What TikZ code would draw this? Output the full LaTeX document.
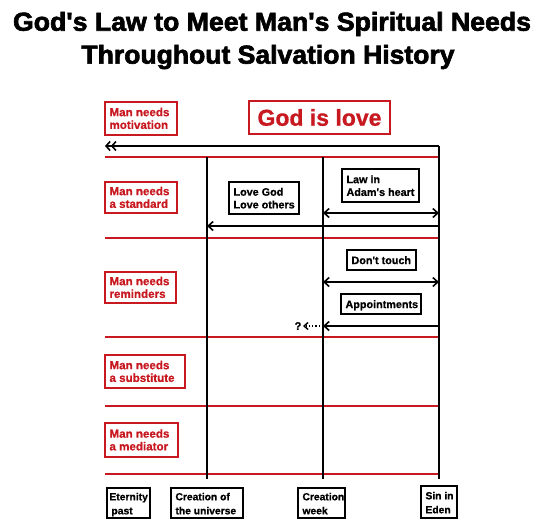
\documentclass[tikz,border=0pt]{standalone}
\usepackage{fontspec}
\setmainfont{Liberation Sans}
\newfontfamily\titlefont{Liberation Sans}[BoldFeatures={FakeBold=2.4}]
\newfontfamily\lblfont{Liberation Sans}[BoldFeatures={FakeBold=0.8}]
\usetikzlibrary{arrows.meta}
\definecolor{dred}{RGB}{200,24,32}
\newcommand{\lbtext}[2]{\raisebox{-1.5pt}[\height][\depth]{\makebox[#1][l]{\begin{tabular}{@{}l@{}}#2\end{tabular}}}}
\tikzset{
  rbox/.style={draw=dred, line width=1.8pt, text=dred, font=\lblfont\bfseries\fontsize{11.6}{12.7}\selectfont, inner xsep=4.5pt, inner ysep=0pt},
  bbox/.style={draw=black, line width=1.8pt, text=black, font=\lblfont\bfseries\fontsize{10.8}{12.7}\selectfont, inner xsep=4.5pt, inner ysep=0pt},
  tbox/.style={draw=black, line width=1.8pt, text=black, font=\lblfont\bfseries\fontsize{10.3}{14}\selectfont, inner xsep=4.5pt, inner ysep=0pt},
  redline/.style={draw=dred, line width=2pt},
  blkline/.style={draw=black, line width=2pt},
  arr/.style={draw=black, line width=2pt, -{Straight Barb[length=5pt,width=9pt,line width=1.6pt]}},
  darr/.style={draw=black, line width=2pt, {Straight Barb[length=5pt,width=9pt,line width=1.6pt]}-{Straight Barb[length=5pt,width=9pt,line width=1.6pt]}},
  dblarr/.style={draw=black, line width=2pt, -{Straight Barb[length=4pt,width=9pt,line width=1.6pt]Straight Barb[length=4pt,width=9pt,line width=1.6pt]}},
  dotarr/.style={draw=black, line width=1.2pt, dotted, -{Straight Barb[length=4pt,width=7pt,line width=1.4pt]}},
}
\begin{document}
\begin{tikzpicture}[x=1pt,y=-1pt]
\useasboundingbox[fill=white] (0,0) rectangle (546,531);
% title
\node (title1) at (272,24) {\resizebox{518pt}{\height}{\titlefont\bfseries\fontsize{26}{30}\selectfont God's Law to Meet Man's Spiritual Needs}};
\node (title2) at (268,57) {\resizebox{373pt}{\height}{\titlefont\bfseries\fontsize{26}{30}\selectfont Throughout Salvation History}};
% grid coordinates
\coordinate (t0) at (105,146);
\coordinate (t1) at (439,146);
\foreach \n/\y in {1/157,2/238,3/337,4/406,5/474}{
  \coordinate (hl\n) at (105,\y);
  \coordinate (hr\n) at (439,\y);
}
\coordinate (va0) at (207,157); \coordinate (va1) at (207,479);
\coordinate (vb0) at (323,157); \coordinate (vb1) at (323,479);
\coordinate (vc0) at (439,146); \coordinate (vc1) at (439,479);
% red lines
\foreach \n in {1,...,5}{\draw[redline] (hl\n) -- (hr\n);}
% vertical lines
\draw[blkline] (va0) -- (va1);
\draw[blkline] (vb0) -- (vb1);
\draw[blkline] (vc0) -- (vc1);
% top arrow
\draw[dblarr] (t1) -- (t0);
% standard row arrows
\coordinate (s1a) at (323,213); \coordinate (s1b) at (439,213);
\draw[darr] (s1a) -- (s1b);
\coordinate (s2a) at (439,226); \coordinate (s2b) at (207,226);
\draw[arr] (s2a) -- (s2b);
% reminders row arrows
\coordinate (r1a) at (323,282); \coordinate (r1b) at (439,282);
\draw[darr] (r1a) -- (r1b);
\coordinate (r2a) at (439,326); \coordinate (r2b) at (323,326);
\draw[arr] (r2a) -- (r2b);
\node[font=\lblfont\bfseries\fontsize{11}{12}\selectfont, inner sep=0pt] (q) at (298,326) {?};
\coordinate (r3b) at (303,326);
\draw[dotarr] (r2b) -- (r3b);
% red label boxes
\node[rbox, minimum height=33pt] (motiv) at (141,118.5) {\lbtext{63pt}{Man needs\\motivation}};
\node[draw=dred, line width=1.8pt, text=dred, inner sep=0pt, minimum width=141pt, minimum height=33pt, font=\lblfont\bfseries\fontsize{23}{26}\selectfont] (love) at (319.5,117.5) {God is love};
\node[rbox, minimum height=31pt] (stand) at (141,197.5) {\lbtext{63pt}{Man needs\\a standard}};
\node[rbox, minimum height=31pt] (remind) at (140.5,287.5) {\lbtext{62pt}{Man needs\\reminders}};
\node[rbox, minimum height=33pt] (subst) at (145,371.5) {\lbtext{71pt}{Man needs\\a substitute}};
\node[rbox, minimum height=34pt] (medi) at (141.5,440) {\lbtext{64pt}{Man needs\\a mediator}};
% black content boxes
\node[bbox, minimum height=32pt] (lovegod) at (264,198) {\lbtext{61pt}{Love God\\Love others}};
\node[bbox, minimum height=33pt] (adam) at (380.5,185.5) {\lbtext{68pt}{Law in\\Adam's heart}};
\node[bbox, minimum height=20pt] (touch) at (381.5,260) {\lbtext{60pt}{Don't touch}};
\node[bbox, minimum height=20pt] (appt) at (381,304) {\lbtext{71pt}{Appointments}};
% timeline boxes
\node[tbox, inner xsep=2.5pt, minimum height=30pt] (etern) at (128.5,503) {\lbtext{38pt}{Eternity\\\hspace*{2pt}past}};
\node[tbox, minimum height=30pt] (univ) at (207,503) {\lbtext{63pt}{Creation of\\the universe}};
\node[tbox, minimum height=30pt] (week) at (321.5,503) {\lbtext{38pt}{Creation\\week}};
\node[tbox, minimum height=32pt] (eden) at (439,502) {\lbtext{27pt}{Sin in\\Eden}};
\end{tikzpicture}
\end{document}
